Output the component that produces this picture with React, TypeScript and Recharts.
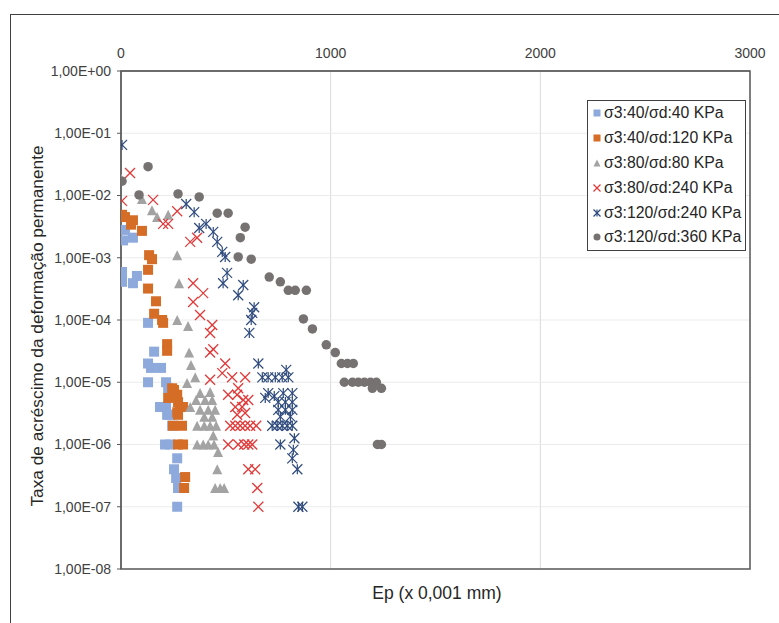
import React from 'react';
import { ScatterChart, Scatter, XAxis, YAxis, CartesianGrid, Legend, ReferenceArea } from 'recharts';

// [Ep, taxa] pairs
const s40_40: [number, number][] = [
  [5, 5.9e-4], [5, 4.1e-4], [57, 3.9e-4], [76, 5.1e-4], [19, 2.8e-3], [57, 2.1e-3], [10, 1.9e-3],
  [129, 9e-5], [158, 3.1e-5], [129, 2e-5], [143, 1.7e-5], [191, 1.7e-5], [129, 1e-5], [215, 1e-5],
  [225, 8e-6], [186, 4e-6], [215, 4e-6], [234, 3e-6], [220, 3e-6], [244, 2e-6], [210, 1e-6],
  [234, 1e-6], [268, 6e-7], [253, 4e-7], [263, 2.9e-7], [272, 2e-7], [268, 1e-7]
];

const s40_120: [number, number][] = [
  [5, 4.9e-3], [19, 4.5e-3], [57, 4e-3], [48, 3.4e-3], [100, 2.7e-3], [134, 1.1e-3], [148, 9.5e-4],
  [129, 6.4e-4], [129, 3.2e-4], [167, 2e-4], [158, 1.26e-4], [196, 1e-4], [201, 9e-5], [220, 4.1e-5],
  [220, 3.2e-5], [244, 8e-6], [253, 7.5e-6], [225, 5.6e-6], [268, 6.3e-6], [272, 4.8e-6], [282, 4e-6],
  [296, 4e-6], [268, 3.3e-6], [272, 3e-6], [248, 2e-6], [291, 2e-6], [272, 1e-6], [296, 1e-6],
  [306, 3e-7], [301, 2e-7]
];

const s80_80: [number, number][] = [
  [0, 1.9e-2], [100, 8.8e-3], [148, 5.8e-3], [172, 4.5e-3], [225, 4.9e-3], [268, 1.1e-3], [277, 3.9e-4],
  [268, 1e-4], [320, 8e-5], [325, 3e-5], [334, 1.9e-5], [354, 1.2e-5], [315, 9.7e-6], [377, 6.7e-6],
  [425, 7e-6], [358, 5.2e-6], [401, 5.2e-6], [435, 5.2e-6], [377, 3.6e-6], [416, 3.6e-6], [449, 3.6e-6],
  [330, 4e-6], [397, 2.8e-6], [435, 2.8e-6], [363, 2e-6], [397, 2e-6], [425, 2e-6], [454, 2e-6],
  [440, 1.4e-6], [363, 1e-6], [392, 1e-6], [416, 1e-6], [444, 1e-6], [463, 7.6e-7], [459, 4e-7],
  [449, 2e-7], [473, 2e-7], [492, 2e-7]
];

const s80_240: [number, number][] = [
  [43, 2.3e-2], [5, 8.2e-3], [153, 8.5e-3], [268, 5.6e-3], [201, 3.5e-3], [225, 3.5e-3], [330, 1.8e-3],
  [363, 2.1e-3], [344, 3.9e-4], [392, 2.7e-4], [344, 1.95e-4], [377, 1.2e-4], [435, 8.3e-5], [425, 6.2e-5],
  [440, 3.4e-5], [425, 3e-5], [497, 2e-5], [483, 1.4e-5], [425, 1.1e-5], [530, 1.2e-5], [592, 1.2e-5],
  [559, 8e-6], [511, 6.3e-6], [554, 6.3e-6], [583, 5.2e-6], [607, 5.2e-6], [545, 4e-6], [578, 4e-6],
  [554, 3e-6], [592, 3.2e-6], [521, 2e-6], [545, 2e-6], [569, 2e-6], [592, 2e-6], [616, 2e-6],
  [645, 2e-6], [511, 1e-6], [559, 1e-6], [588, 1e-6], [607, 1e-6], [626, 1e-6], [607, 4e-7],
  [640, 4e-7], [650, 2e-7], [655, 1e-7]
];

const s120_240: [number, number][] = [
  [5, 6.5e-2], [311, 7.3e-3], [349, 5.4e-3], [373, 3e-3], [406, 3.5e-3], [440, 2.6e-3], [459, 1.8e-3],
  [483, 1.24e-3], [497, 1.03e-3], [506, 5.7e-4], [487, 3.9e-4], [583, 3.65e-4], [559, 2.5e-4],
  [635, 1.6e-4], [626, 1.3e-4], [621, 1e-4], [612, 6.2e-5], [655, 2e-5], [788, 1.58e-5], [674, 1.2e-5],
  [702, 1.2e-5], [736, 1.2e-5], [769, 1.2e-5], [798, 1.2e-5], [702, 6.7e-6], [688, 5.6e-6], [731, 6e-6],
  [774, 6.7e-6], [817, 6.7e-6], [750, 4.8e-6], [784, 4.8e-6], [817, 4.8e-6], [750, 3.6e-6],
  [784, 3.6e-6], [817, 3.6e-6], [760, 2.8e-6], [808, 2.8e-6], [721, 2e-6], [745, 2e-6], [769, 2e-6],
  [793, 2e-6], [817, 2e-6], [760, 1e-6], [827, 1.26e-6], [822, 8.2e-7], [817, 6e-7], [841, 4e-7],
  [846, 1e-7], [865, 1e-7]
];

const s120_360: [number, number][] = [
  [5, 1.7e-2], [129, 2.9e-2], [86, 1.02e-2], [272, 1.06e-2], [373, 9.5e-3], [459, 5.2e-3], [511, 5.2e-3],
  [592, 3.1e-3], [569, 2.1e-3], [559, 1.03e-3], [621, 9.5e-4], [707, 4.9e-4], [760, 4.1e-4], [798, 3e-4],
  [831, 3e-4], [884, 3e-4], [870, 1.04e-4], [913, 7.2e-5], [979, 4e-5], [1022, 3e-5], [1051, 2e-5],
  [1080, 2e-5], [1108, 2e-5], [1065, 1e-5], [1104, 1e-5], [1132, 1e-5], [1161, 1e-5], [1190, 1e-5],
  [1218, 1e-5], [1199, 8e-6], [1242, 8e-6], [1223, 1e-6], [1242, 1e-6]
];

const xTicks = [0, 1000, 2000, 3000];
const yTicks = [1e-8, 1e-7, 1e-6, 1e-5, 1e-4, 1e-3, 1e-2, 1e-1, 1];

const FONT = '"Liberation Sans", Arial, sans-serif';

const toPoints = (pairs: [number, number][]) => pairs.map(([x, y]) => ({ x, y }));

const fmtExp = (v: number) => {
  const e = Math.round(Math.log10(v));
  return `1,00E${e < 0 ? '-' : '+'}${String(Math.abs(e)).padStart(2, '0')}`;
};

type MarkProps = { cx?: number; cy?: number; fill?: string; size?: number };

const SquareMark = ({ cx = 0, cy = 0, fill, size = 10 }: MarkProps) => (
  <rect x={cx - size / 2} y={cy - size / 2} width={size} height={size} fill={fill} />
);

const TriangleMark = ({ cx = 0, cy = 0, fill, size = 10 }: MarkProps) => {
  const h = size / 2;
  return <polygon points={`${cx},${cy - h} ${cx + h},${cy + h} ${cx - h},${cy + h}`} fill={fill} />;
};

const CrossMark = ({ cx = 0, cy = 0, fill, size = 10 }: MarkProps) => {
  const h = size / 2;
  return (
    <g stroke={fill} strokeWidth={1.3}>
      <line x1={cx - h} y1={cy - h} x2={cx + h} y2={cy + h} />
      <line x1={cx - h} y1={cy + h} x2={cx + h} y2={cy - h} />
    </g>
  );
};

const StarMark = ({ cx = 0, cy = 0, fill, size = 10 }: MarkProps) => {
  const h = size / 2;
  return (
    <g stroke={fill} strokeWidth={1.2}>
      <line x1={cx - h} y1={cy - h} x2={cx + h} y2={cy + h} />
      <line x1={cx - h} y1={cy + h} x2={cx + h} y2={cy - h} />
      <line x1={cx} y1={cy - h} x2={cx} y2={cy + h} />
    </g>
  );
};

const CircleMark = ({ cx = 0, cy = 0, fill, size = 9.5 }: MarkProps) => (
  <circle cx={cx} cy={cy} r={size / 2} fill={fill} />
);

const series = [
  { name: 'σ3:40/σd:40 KPa', data: s40_40, color: '#8EA9DB', Mark: SquareMark },
  { name: 'σ3:40/σd:120 KPa', data: s40_120, color: '#D56D27', Mark: SquareMark },
  { name: 'σ3:80/σd:80 KPa', data: s80_80, color: '#A3A3A3', Mark: TriangleMark },
  { name: 'σ3:80/σd:240 KPa', data: s80_240, color: '#E03A3A', Mark: CrossMark },
  { name: 'σ3:120/σd:240 KPa', data: s120_240, color: '#2E4A7D', Mark: StarMark },
  { name: 'σ3:120/σd:360 KPa', data: s120_360, color: '#777272', Mark: CircleMark }
];

const LegendBox = () => (
  <div
    style={{
      border: '1px solid #404040',
      background: '#fff',
      width: 159,
      padding: '0 0 0 5px',
      fontFamily: FONT,
      fontSize: 15.8,
      color: '#262626',
      boxSizing: 'border-box'
    }}
  >
    {series.map((s) => (
      <div key={s.name} style={{ display: 'flex', alignItems: 'center', height: 24.8, whiteSpace: 'nowrap' }}>
        <svg width={9} height={10} style={{ marginRight: 2 }}>
          <s.Mark cx={4} cy={5} fill={s.color} size={7} />
        </svg>
        <span>{s.name}</span>
      </div>
    ))}
  </div>
);

const App = () => {
  return (
    <div style={{ position: 'absolute', left: 0, top: 0, width: 779, height: 623, overflow: 'hidden', background: '#fff' }}>
      <div
        style={{
          position: 'absolute',
          left: 10,
          top: 14,
          width: 800,
          height: 700,
          borderLeft: '1px solid #404040',
          borderTop: '1px solid #404040'
        }}
      />
      <ScatterChart
        width={779}
        height={623}
        margin={{ top: 41, right: 29, bottom: 54, left: 10 }}
        style={{ position: 'absolute', left: 0, top: 0 }}
      >
        <CartesianGrid horizontal={false} stroke="#D9D9D9" />
        <CartesianGrid vertical={false} stroke="#EBEBEB" />
        <XAxis
          type="number"
          dataKey="x"
          orientation="top"
          height={30}
          domain={[0, 3000]}
          ticks={xTicks}
          allowDataOverflow
          tickLine={false}
          tickSize={4}
          tickMargin={9}
          axisLine={{ stroke: '#595959' }}
          tick={{ fill: '#404040', fontSize: 14, fontFamily: FONT }}
          label={{
            content: () => (
              <text x={437} y={599} textAnchor="middle" fontSize={17.5} fontFamily={FONT} fill="#262626">
                Ep (x 0,001 mm)
              </text>
            )
          }}
        />
        <YAxis
          type="number"
          dataKey="y"
          scale="log"
          domain={[1e-8, 1]}
          ticks={yTicks}
          allowDataOverflow
          width={111}
          tickSize={4}
          tickMargin={6}
          tickFormatter={fmtExp}
          axisLine={{ stroke: '#595959' }}
          tickLine={{ stroke: '#595959' }}
          tick={{ fill: '#404040', fontSize: 14, fontFamily: FONT }}
          label={{
            content: () => (
              <text
                x={37}
                y={326}
                transform="rotate(-90 37 326)"
                textAnchor="middle"
                dominantBaseline="central"
                fontSize={17.3}
                fontFamily={FONT}
                fill="#262626"
              >
                Taxa de acréscimo da deformação permanente
              </text>
            )
          }}
        />
        <ReferenceArea x1={0} x2={3000} y1={1e-8} y2={1} fill="none" stroke="#595959" strokeWidth={1.5} ifOverflow="visible" />
        {series.map((s) => (
          <Scatter
            key={s.name}
            name={s.name}
            data={toPoints(s.data)}
            fill={s.color}
            isAnimationActive={false}
            shape={(p: any) => <s.Mark cx={p.cx} cy={p.cy} fill={s.color} />}
          />
        ))}
        <Legend
          verticalAlign="middle"
          align="center"
          layout="horizontal"
          wrapperStyle={{ top: 100, left: 587, width: 159 }}
          content={() => <LegendBox />}
        />
      </ScatterChart>
    </div>
  );
};

export default App;
